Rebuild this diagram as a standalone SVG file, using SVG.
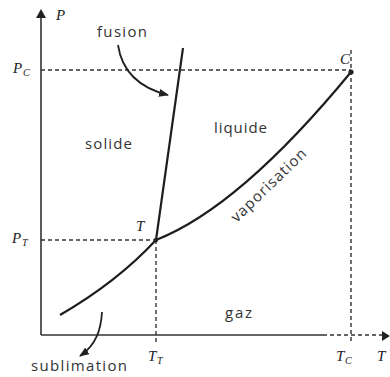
<svg xmlns="http://www.w3.org/2000/svg" width="390" height="377" viewBox="0 0 390 377">
<defs>
<style>
.axis{stroke:#333;stroke-width:1.6;fill:none}
.dash{stroke:#333;stroke-width:1.4;stroke-dasharray:4 3;fill:none}
.curve{stroke:#1e1e1e;stroke-width:2.2;fill:none}
.arr{stroke:#222;stroke-width:1.8;fill:none}
.lbl{font-family:"Open Sans","Liberation Sans",sans-serif;font-size:15px;fill:#333}
.sym{font-family:"Liberation Serif",serif;font-style:italic;font-size:15px;fill:#222}
.sub{font-family:"Liberation Serif",serif;font-style:italic;font-size:10px;fill:#222}
</style>
<marker id="ah" markerWidth="10" markerHeight="8" refX="9" refY="4" orient="auto" markerUnits="userSpaceOnUse">
<path d="M0,0 L10,4 L0,8 Z" fill="#222"/>
</marker>
</defs>
<rect width="390" height="377" fill="#fff"/>
<g id="connectors">
<path class="axis" d="M41,335 L41,16"/>
<path d="M41,9 L36,18 L46,18 Z" fill="#222"/>
<path class="axis" d="M41,335 L323,335"/>
<path class="dash" d="M323,335 L383,335"/>
<path d="M390,336 L382,331 L382,341 Z" fill="#222"/>
<path class="dash" d="M41,70 L351,70"/>
<path class="dash" d="M351,50 L351,343"/>
<path class="dash" d="M41,240 L156,240"/>
<path class="dash" d="M156,240 L156,342"/>
<path class="curve" d="M156,240 L183,48"/>
<path class="curve" d="M156,240 Q240,207 351,72"/>
<path class="curve" d="M60,315 Q117,282 156,240"/>
<path class="arr" d="M118,45 C122,72 140,88 168,95" marker-end="url(#ah)"/>
<path class="arr" d="M102,312 C101,330 96,345 80,356" marker-end="url(#ah)"/>
</g>
<g id="point-C">
<circle cx="351" cy="72" r="2.6" fill="#222"/>
<text class="sym" x="340" y="64">C</text>
</g>
<g id="point-T">
<circle cx="156" cy="240" r="2.2" fill="#222"/>
<text class="sym" x="136" y="231">T</text>
</g>
<g id="axis-labels">
<text class="sym" x="56" y="20" font-size="12">P</text>
<text class="sym" x="13" y="73">P</text><text class="sub" x="23" y="76">C</text>
<text class="sym" x="12" y="243">P</text><text class="sub" x="22" y="246">T</text>
<text class="sym" x="148" y="361">T</text><text class="sub" x="157" y="364">T</text>
<text class="sym" x="336" y="361">T</text><text class="sub" x="345" y="364">C</text>
<text class="sym" x="377" y="361">T</text>
</g>
<g id="region-labels">
<text class="lbl" x="97" y="37" textLength="50" lengthAdjust="spacing">fusion</text>
<text class="lbl" x="85" y="149" textLength="47" lengthAdjust="spacing">solide</text>
<text class="lbl" x="214" y="133" textLength="53" lengthAdjust="spacing">liquide</text>
<text class="lbl" x="225" y="318" textLength="27" lengthAdjust="spacing">gaz</text>
<text class="lbl" x="31" y="371" textLength="96" lengthAdjust="spacing">sublimation</text>
<text class="lbl" x="272" y="189" text-anchor="middle" transform="rotate(-44 272 189)" textLength="98" lengthAdjust="spacing">vaporisation</text>
</g>
</svg>
